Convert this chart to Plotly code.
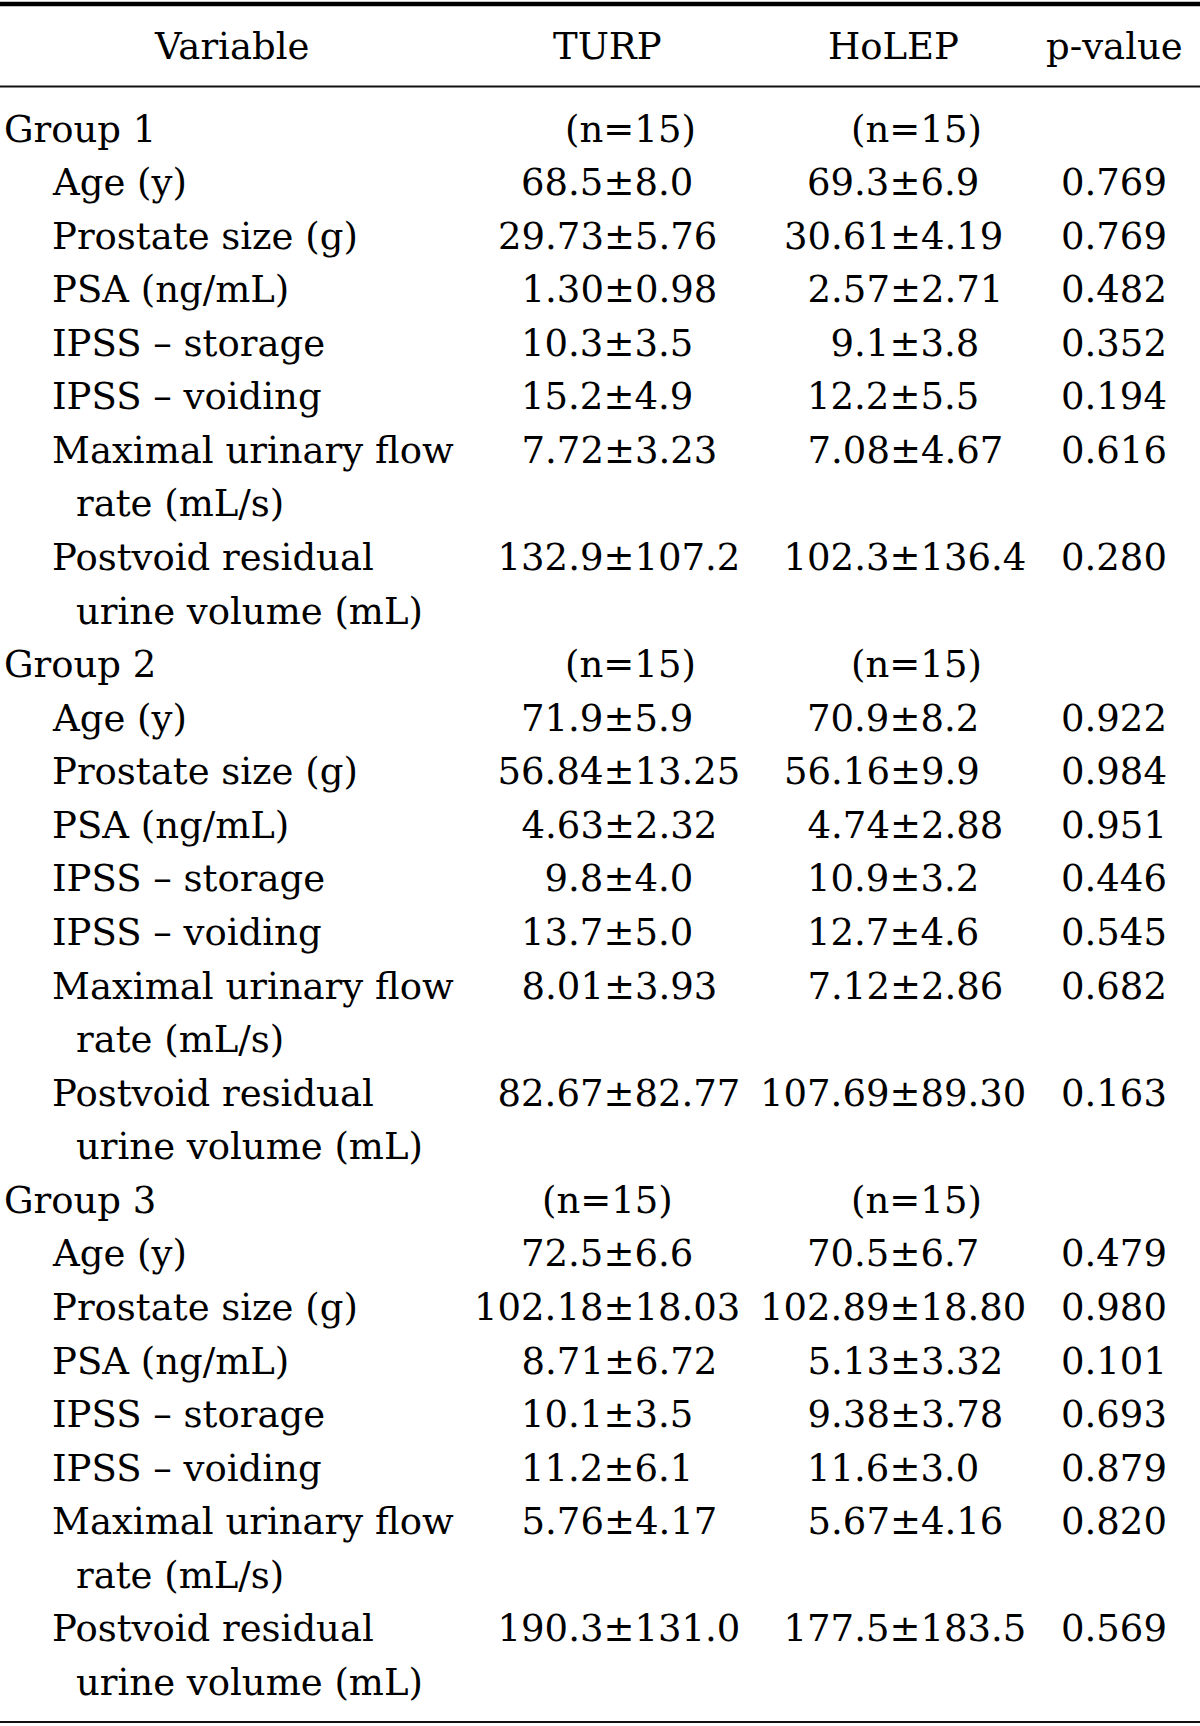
import plotly.graph_objects as go

# ---------------- data ----------------
headers = ["Variable", "TURP", "HoLEP", "p-value"]
groups = ["Group 1", "Group 2", "Group 3"]
FS = "\u2007"  # figure space used for numeric padding in the source table
n_turp = [FS * 2 + "(n=15)", FS * 2 + "(n=15)", "(n=15)"]
n_holep = [FS * 2 + "(n=15)", FS * 2 + "(n=15)", FS * 2 + "(n=15)"]
variables = [
    ["Age (y)"],
    ["Prostate size (g)"],
    ["PSA (ng/mL)"],
    ["IPSS \u2013 storage"],
    ["IPSS \u2013 voiding"],
    ["Maximal urinary flow", "rate (mL/s)"],
    ["Postvoid residual", "urine volume (mL)"],
]
turp = [
    ["68.5±8.0", "29.73±5.76", FS + "1.30±0.98", "10.3±3.5", "15.2±4.9", FS + "7.72±3.23", FS + "132.9±107.2"],
    ["71.9±5.9", FS + "56.84±13.25", FS + "4.63±2.32", FS + "9.8±4.0", "13.7±5.0", FS + "8.01±3.93", FS + "82.67±82.77"],
    ["72.5±6.6", "102.18±18.03", FS + "8.71±6.72", "10.1±3.5", "11.2±6.1", FS + "5.76±4.17", FS + "190.3±131.0"],
]
holep = [
    ["69.3±6.9", "30.61±4.19", FS + "2.57±2.71", FS + "9.1±3.8", "12.2±5.5", FS + "7.08±4.67", FS + "102.3±136.4"],
    ["70.9±8.2", "56.16±9.9" + FS, FS + "4.74±2.88", "10.9±3.2", "12.7±4.6", FS + "7.12±2.86", "107.69±89.30"],
    ["70.5±6.7", "102.89±18.80", FS + "5.13±3.32", FS + "9.38±3.78", "11.6±3.0", FS + "5.67±4.16", FS + "177.5±183.5"],
]
pvalues = [
    ["0.769", "0.769", "0.482", "0.352", "0.194", "0.616", "0.280"],
    ["0.922", "0.984", "0.951", "0.446", "0.545", "0.682", "0.163"],
    ["0.479", "0.980", "0.101", "0.693", "0.879", "0.820", "0.569"],
]

# ---------------- style ----------------
W, H = 1200, 1726
FONT = dict(family="DejaVu Serif", size=37, color="#000000")
X_GROUP = 3
X_ITEM = 51
X_CONT = 75
X_VARHDR = 231
X_TURP = 607
X_HOLEP = 893
X_P = 1114
Y_HEADER = 46
Y_FIRST = 129
ROW_H = 53.57

annotations = []


def add(text, x, y, anchor="center"):
    annotations.append(dict(
        text=text, x=x, y=y, xref="x", yref="y", showarrow=False,
        xanchor=anchor, yanchor="middle", font=FONT, borderpad=0,
    ))


for hdr, x in zip(headers, [X_VARHDR, X_TURP, X_HOLEP, X_P]):
    add(hdr, x, Y_HEADER)

row = 0
for g, grp in enumerate(groups):
    y = Y_FIRST + row * ROW_H
    add(grp, X_GROUP, y, "left")
    add(n_turp[g], X_TURP, y)
    add(n_holep[g], X_HOLEP, y)
    row += 1
    for i, lines in enumerate(variables):
        y = Y_FIRST + row * ROW_H
        add(lines[0], X_ITEM, y, "left")
        add(turp[g][i], X_TURP, y)
        add(holep[g][i], X_HOLEP, y)
        add(pvalues[g][i], X_P, y)
        row += 1
        for extra in lines[1:]:
            y = Y_FIRST + row * ROW_H
            add(extra, X_CONT, y, "left")
            row += 1

shapes = [
    dict(type="line", xref="x", yref="y", x0=0, x1=W, y0=4, y1=4,
         line=dict(color="#000000", width=4.5)),
    dict(type="line", xref="x", yref="y", x0=0, x1=W, y0=86.5, y1=86.5,
         line=dict(color="#111111", width=2.2)),
    dict(type="line", xref="x", yref="y", x0=0, x1=W, y0=1722, y1=1722,
         line=dict(color="#111111", width=2.2)),
]

fig = go.Figure()
fig.add_trace(go.Scatter(x=[0, W], y=[0, H], mode="markers",
                         marker=dict(opacity=0), hoverinfo="skip", showlegend=False))
fig.update_layout(
    width=W, height=H,
    margin=dict(l=0, r=0, t=0, b=0),
    paper_bgcolor="#ffffff", plot_bgcolor="#ffffff",
    xaxis=dict(range=[0, W], visible=False, fixedrange=True),
    yaxis=dict(range=[H, 0], visible=False, fixedrange=True),
    annotations=annotations,
    shapes=shapes,
    showlegend=False,
)
fig.write_html(
    "out.html",
    config={"displayModeBar": False},
    post_script="document.body.style.margin='0';document.body.style.padding='0';",
)
